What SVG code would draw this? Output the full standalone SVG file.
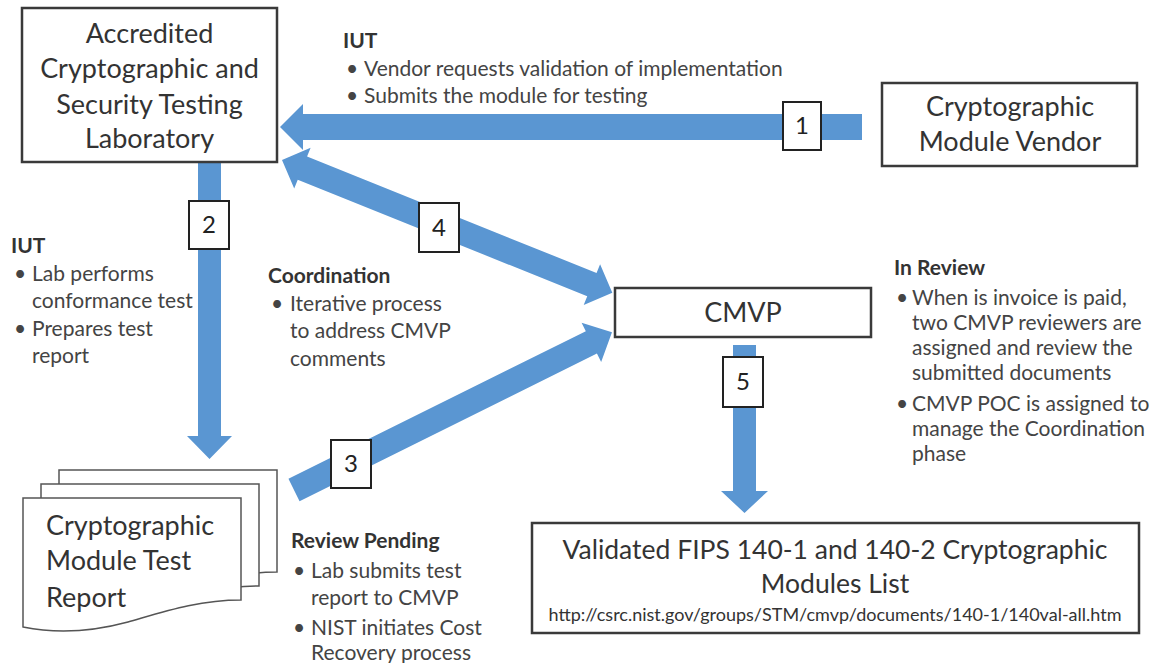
<svg xmlns="http://www.w3.org/2000/svg" width="1169" height="663" viewBox="0 0 1169 663">
<style>
.box{fill:#fff;stroke:#3a3a3a;stroke-width:2.5}
.num{fill:#fff;stroke:#222;stroke-width:2}
.arrow{fill:#5a96d2}
.doc{fill:#fff;stroke:#555;stroke-width:1.5}
.big{font-family:Lato,"Liberation Sans",sans-serif;font-size:27px;fill:#333;text-anchor:middle}
.bigl{font-family:Lato,"Liberation Sans",sans-serif;font-size:27px;fill:#333}
.mid{font-family:Lato,"Liberation Sans",sans-serif;font-size:26.5px;fill:#333;text-anchor:middle}
.n{font-family:Lato,"Liberation Sans",sans-serif;font-size:24px;fill:#222;text-anchor:middle}
.h{font-family:Lato,"Liberation Sans",sans-serif;font-size:21px;font-weight:bold;fill:#333}
.t{font-family:Lato,"Liberation Sans",sans-serif;font-size:21px;fill:#444}
.url{font-family:Lato,"Liberation Sans",sans-serif;font-size:18px;fill:#333;text-anchor:middle}
</style>
<defs>
  <path id="docshape" d="M0,0 H218 V102 C175,102 140,114 105,124 C68,134 34,136 0,129 Z"/>
</defs>
<rect width="1169" height="663" fill="#fff"/>

<g id="connectors">
  <polygon class="arrow" points="280,127 303,104 303,114 862,114 862,140 303,140 303,150"/>
  <polygon class="arrow" points="198,162 221,162 221,436 232,436 209.5,459 187,436 198,436"/>
  <polygon class="arrow" transform="translate(282,160) rotate(21.9)" points="0,0 22,-22 22,-12.5 334,-12.5 334,-22 356,0 334,22 334,12.5 22,12.5 22,22"/>
  <polygon class="arrow" transform="translate(294,490) rotate(-26.4)" points="0,-12.5 332,-12.5 332,-22 355,0 332,22 332,12.5 0,12.5"/>
  <polygon class="arrow" points="733,345 756,345 756,491 768,491 744.5,513 721,491 733,491"/>
  <g id="label1"><rect class="num" x="783" y="102" width="38" height="48"/><text class="n" x="802" y="134">1</text></g>
  <g id="label2"><rect class="num" x="189" y="201" width="40" height="48"/><text class="n" x="209" y="233">2</text></g>
  <g id="label3"><rect class="num" x="331" y="440" width="40" height="48"/><text class="n" x="351" y="472">3</text></g>
  <g id="label4"><rect class="num" x="419" y="203" width="40" height="49"/><text class="n" x="439" y="236">4</text></g>
  <g id="label5"><rect class="num" x="723" y="357" width="40" height="50"/><text class="n" x="743" y="390">5</text></g>
</g>

<g id="lab">
  <rect class="box" x="22" y="8" width="255" height="154"/>
  <text class="big" x="149.5" y="43">Accredited</text>
  <text class="big" x="149.5" y="78">Cryptographic and</text>
  <text class="big" x="149.5" y="114">Security Testing</text>
  <text class="big" x="149.5" y="148">Laboratory</text>
</g>

<g id="vendor">
  <rect class="box" x="882" y="83" width="255" height="83"/>
  <text class="big" x="1010" y="116">Cryptographic</text>
  <text class="big" x="1010" y="151">Module Vendor</text>
</g>

<g id="cmvp">
  <rect class="box" x="615" y="288" width="256" height="49"/>
  <text class="big" x="743" y="322">CMVP</text>
</g>

<g id="report">
  <use href="#docshape" class="doc" transform="translate(59,470)"/>
  <use href="#docshape" class="doc" transform="translate(41,484)"/>
  <use href="#docshape" class="doc" transform="translate(23,498)"/>
  <text class="bigl" x="46" y="535">Cryptographic</text>
  <text class="bigl" x="46" y="570">Module Test</text>
  <text class="bigl" x="46" y="607">Report</text>
</g>

<g id="validated">
  <rect class="box" x="532" y="523" width="607" height="110"/>
  <text class="mid" x="835" y="559">Validated FIPS 140-1 and 140-2 Cryptographic</text>
  <text class="mid" x="835" y="593">Modules List</text>
  <text class="url" x="835" y="621">http://csrc.nist.gov/groups/STM/cmvp/documents/140-1/140val-all.htm</text>
</g>

<g id="note-iut-top">
  <text class="h" x="343" y="48">IUT</text>
  <text class="t" x="346" y="76">•</text><text class="t" x="364" y="76">Vendor requests validation of implementation</text>
  <text class="t" x="346" y="103">•</text><text class="t" x="364" y="103">Submits the module for testing</text>
</g>

<g id="note-iut-left">
  <text class="h" x="11" y="253">IUT</text>
  <text class="t" x="14" y="281">•</text><text class="t" x="32" y="281">Lab performs</text>
  <text class="t" x="32" y="308">conformance test</text>
  <text class="t" x="14" y="336">•</text><text class="t" x="32" y="336">Prepares test</text>
  <text class="t" x="32" y="363">report</text>
</g>

<g id="note-coordination">
  <text class="h" x="268" y="283">Coordination</text>
  <text class="t" x="271" y="311">•</text><text class="t" x="290" y="311">Iterative process</text>
  <text class="t" x="290" y="338">to address CMVP</text>
  <text class="t" x="290" y="366">comments</text>
</g>

<g id="note-in-review">
  <text class="h" x="894" y="275">In Review</text>
  <text class="t" x="896" y="305">•</text><text class="t" x="912" y="305">When is invoice is paid,</text>
  <text class="t" x="912" y="330">two CMVP reviewers are</text>
  <text class="t" x="912" y="355">assigned and review the</text>
  <text class="t" x="912" y="380">submitted documents</text>
  <text class="t" x="896" y="411">•</text><text class="t" x="912" y="411">CMVP POC is assigned to</text>
  <text class="t" x="912" y="436">manage the Coordination</text>
  <text class="t" x="912" y="461">phase</text>
</g>

<g id="note-review-pending">
  <text class="h" x="291" y="548">Review Pending</text>
  <text class="t" x="293" y="578">•</text><text class="t" x="311" y="578">Lab submits test</text>
  <text class="t" x="311" y="605">report to CMVP</text>
  <text class="t" x="293" y="635">•</text><text class="t" x="311" y="635">NIST initiates Cost</text>
  <text class="t" x="311" y="660">Recovery process</text>
</g>
</svg>
